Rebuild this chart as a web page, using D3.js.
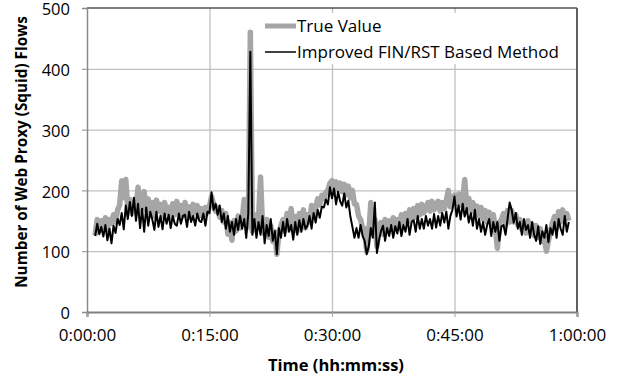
<!DOCTYPE html>
<html>
<head>
<meta charset="utf-8">
<script src="https://cdn.jsdelivr.net/npm/d3@7"></script>
<style>
  html, body { margin: 0; padding: 0; background: #fff; }
  svg { display: block; }
  text { font-family: "Open Sans", "DejaVu Sans", sans-serif; fill: #000; }
</style>
</head>
<body>
<svg id="chart" width="629" height="379"></svg>
<script>
// Squid flow counts sampled every 15 s, from 0:01:00 to 0:59:00
const startSec = 60;
const stepSec = 15;

const trueValue = [
  126, 152, 133, 150,  140, 155, 136, 152,  146, 160, 148, 168,  176, 216, 188, 218,
  168, 185, 162, 180,  170, 205, 166, 182,  198, 168, 186, 163,  180, 158, 184, 166,
  177, 158, 180, 163,  172, 156, 178, 160,  182, 163, 175, 158,  180, 160, 173, 156,
  177, 163, 175, 158,  170, 158, 172, 163,  174, 190, 177, 166,  172, 156, 167, 148,
  162, 128, 147, 118,  150, 133, 158, 138,  152, 185, 143, 140,  460, 133, 160, 138,
  152, 222, 138, 128,  152, 123, 142, 116,  132, 95, 130, 142,   152, 133, 162, 143,
  170, 138, 157, 133,  162, 148, 168, 138,  160, 148, 175, 158,  172, 186, 176, 192,
  186, 197, 200, 212,  216, 198, 214, 203,  212, 198, 210, 193,  207, 188, 200, 178,
  177, 158, 152, 138,  137, 100, 127, 180,  132, 152, 108, 142,  147, 128, 152, 138,
  150, 136, 155, 143,  152, 138, 160, 148,  162, 148, 168, 153,  170, 156, 175, 160,
  177, 163, 172, 180,  166, 182, 168, 177,  182, 166, 180, 170,  184, 200, 173, 187,
  192, 178, 194, 176,  182, 218, 173, 187,  168, 180, 163, 174,  158, 172, 153, 167,
  148, 164, 146, 160,  138, 105, 147, 152,  162, 143, 167, 148,  167, 148, 160, 143,
  152, 136, 147, 130,  150, 133, 144, 126,  142, 123, 137, 116,  122, 100, 117, 132,
  147, 157, 138, 165,  148, 168, 153, 162,  150
];

const improvedMethod = [
  125, 145, 128, 140,  124, 143, 118, 137,  113, 142, 130, 153,  143, 163, 136, 175,
  153, 181, 158, 188,  150, 178, 138, 170,  132, 172, 142, 165,  152, 135, 165, 140,
  158, 136, 162, 145,  160, 138, 158, 145,  142, 162, 145, 158,  160, 140, 165, 148,
  158, 142, 162, 150,  148, 162, 142, 165,  163, 197, 168, 178,  160, 175, 148, 162,
  137, 158, 132, 148,  127, 153, 135, 158,  137, 153, 122, 162,  428, 127, 153, 122,
  148, 127, 158, 113,  143, 125, 153, 117,  133, 95, 138, 122,   148, 125, 153, 132,
  143, 119, 148, 127,  151, 132, 153, 137,  142, 158, 137, 163,  147, 168, 155, 173,
  172, 185, 177, 205,  187, 203, 177, 198,  182, 175, 195, 172,  183, 157, 140, 122,
  138, 122, 143, 125,  117, 95, 108, 138,   122, 180, 97, 118,   133, 142, 117, 138,
  125, 143, 122, 141,  129, 148, 125, 143,  132, 153, 127, 148,  151, 132, 158, 137,
  153, 137, 158, 142,  153, 137, 161, 139,  158, 142, 163, 147,  165, 137, 158, 168,
  190, 157, 175, 152,  178, 157, 171, 147,  163, 142, 168, 137,  153, 132, 148, 127,
  143, 153, 125, 148,  132, 148, 117, 141,  143, 127, 153, 180,  168, 147, 163, 137,
  148, 127, 153, 135,  143, 122, 148, 127,  117, 141, 112, 133,  122, 143, 115, 138,
  127, 148, 122, 153,  137, 127, 158, 132,  148
];

const seriesNames = ["True Value", "Improved FIN/RST Based Method"];
const xTickSeconds = [0, 900, 1800, 2700, 3600];
const xTickLabels = ["0:00:00", "0:15:00", "0:30:00", "0:45:00", "1:00:00"];
const yTicks = [0, 100, 200, 300, 400, 500];

const svg = d3.select("#chart");
const plotL = 87, plotR = 577, plotT = 8, plotB = 312;

const x = d3.scaleLinear().domain([0, 3600]).range([plotL, plotR]);
const y = d3.scaleLinear().domain([0, 500]).range([plotB, plotT]);

// gridlines
svg.append("g")
  .attr("transform", `translate(0,${plotB})`)
  .call(d3.axisBottom(x).tickValues(xTickSeconds.slice(1, -1)).tickSize(-(plotB - plotT)).tickFormat(""))
  .call(g => g.select(".domain").remove())
  .call(g => g.selectAll("line").attr("stroke", "#c0c0c0").attr("stroke-width", 1.3));
svg.append("g")
  .attr("transform", `translate(${plotL},0)`)
  .call(d3.axisLeft(y).tickValues(yTicks.slice(1, -1)).tickSize(-(plotR - plotL)).tickFormat(""))
  .call(g => g.select(".domain").remove())
  .call(g => g.selectAll("line").attr("stroke", "#c0c0c0").attr("stroke-width", 1.3));

// plot border: top and right
svg.append("line").attr("x1", plotL).attr("x2", plotR).attr("y1", y(500)).attr("y2", y(500))
  .attr("stroke", "#000").attr("stroke-width", 1);
svg.append("line").attr("x1", plotR).attr("x2", plotR).attr("y1", plotT).attr("y2", plotB)
  .attr("stroke", "#606060").attr("stroke-width", 2);

// axes
const xAxis = svg.append("g")
  .attr("transform", `translate(0,${plotB})`)
  .call(d3.axisBottom(x).tickValues(xTickSeconds).tickSize(5).tickPadding(12)
    .tickFormat((d, i) => xTickLabels[i]));
xAxis.select(".domain").attr("stroke", "#7f7f7f").attr("stroke-width", 2.2);
xAxis.selectAll("line").attr("stroke", "#a0a0a0");
xAxis.selectAll("text").attr("font-size", 17).attr("font-family", "Open Sans");

const yAxis = svg.append("g")
  .attr("transform", `translate(${plotL},0)`)
  .call(d3.axisLeft(y).tickValues(yTicks).tickSize(5).tickPadding(12));
yAxis.select(".domain").attr("stroke", "#8a8a8a").attr("stroke-width", 1.5);
yAxis.selectAll("line").attr("stroke", "#8a8a8a");
yAxis.selectAll("text").attr("font-size", 16.5).attr("font-family", "Open Sans").attr("dy", "0.4em");

// series
const line = d3.line()
  .x((d, i) => x(startSec + i * stepSec))
  .y(d => y(d));

svg.append("path").datum(trueValue)
  .attr("d", line).attr("fill", "none")
  .attr("stroke", "#a6a6a6").attr("stroke-width", 5.5).attr("stroke-linejoin", "round");
svg.append("path").datum(improvedMethod)
  .attr("d", line).attr("fill", "none")
  .attr("stroke", "#000").attr("stroke-width", 2).attr("stroke-linejoin", "round");

// legend
const legend = svg.append("g");
legend.append("rect").attr("x", 259).attr("y", 13).attr("width", 315).attr("height", 51).attr("fill", "#fff");
const legendStyles = [
  { color: "#a6a6a6", width: 5, ly: 26 },
  { color: "#000", width: 1.5, ly: 52 }
];
seriesNames.forEach((name, i) => {
  const s = legendStyles[i];
  legend.append("line").attr("x1", 265).attr("x2", 296).attr("y1", s.ly).attr("y2", s.ly)
    .attr("stroke", s.color).attr("stroke-width", s.width);
  legend.append("text").attr("x", 297).attr("y", s.ly).attr("dy", "0.35em")
    .attr("font-size", 17).text(name);
});

// axis titles
svg.append("text")
  .attr("transform", `translate(22,${(plotT + plotB) / 2 - 8}) rotate(-90)`)
  .attr("text-anchor", "middle").attr("dy", "0.35em")
  .attr("font-size", 15.3).attr("font-weight", "bold")
  .text("Number of Web Proxy (Squid) Flows");
svg.append("text")
  .attr("x", 336).attr("y", 365).attr("dy", "0.35em")
  .attr("text-anchor", "middle")
  .attr("font-size", 16.5).attr("font-weight", "bold")
  .text("Time (hh:mm:ss)");
</script>
</body>
</html>
